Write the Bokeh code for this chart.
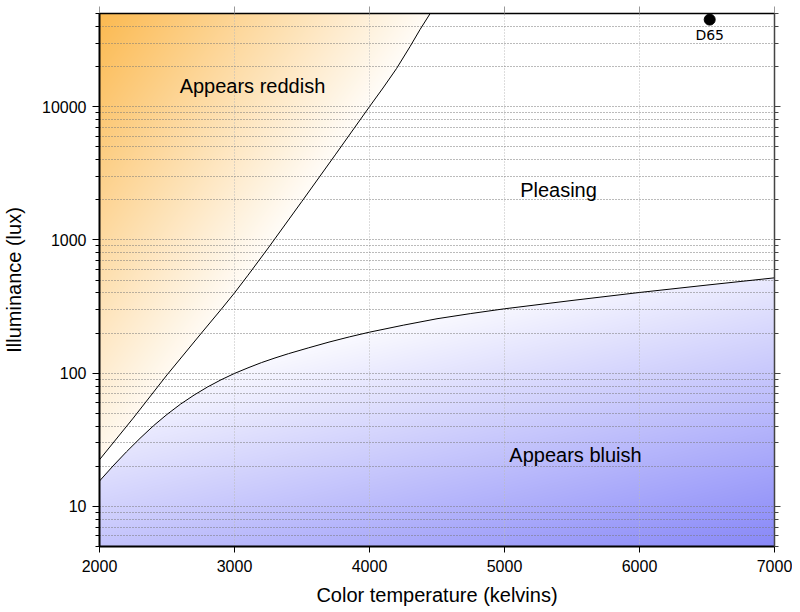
import numpy as np
from bokeh.plotting import figure
from bokeh.models import LogAxis, LinearAxis, FixedTicker, Range1d, PrintfTickFormatter
from bokeh.embed import file_html
from bokeh.resources import INLINE
from bokeh.core.properties import value

# ---------------- data ----------------
upper_T = [2000, 2250, 2500, 2750, 2900, 3000, 3100, 3250, 3500, 3750,
           4000, 4100, 4200, 4300, 4375, 4450]
upper_lux = [22.4, 46, 97, 197, 300, 400, 543, 870, 1950, 4400,
             10000, 13800, 19300, 28200, 38000, 50100]

lower_T = [2000, 2100, 2200, 2300, 2400, 2500, 2600, 2700, 2800, 2900, 3000,
           3100, 3200, 3300, 3400, 3550, 3700, 3850, 4000, 4250, 4500, 4750,
           5000, 5500, 6000, 6500, 7000]
lower_lux = [15.5, 20.1, 25.7, 32.4, 40.3, 49, 58.5, 68.4, 78.7, 89.1, 99.5,
             109.6, 120, 130, 140, 155, 171, 187, 203, 229, 256, 280,
             304, 351, 403, 458, 519]

d65_T = [6520]
d65_lux = [45000]
d65_label_lux = [34700]
d65_text = ["D65"]

region_labels = ["Appears reddish", "Pleasing", "Appears bluish"]
region_T = [3133, 5400, 5526]
region_lux = [14400, 2370, 24.5]

x_ticks = [2000, 3000, 4000, 5000, 6000, 7000]
y_ticks = [10, 100, 1000, 10000]
y_tick_labels = ["10", "100", "1000", "10000"]
y_minor = [m * 10 ** e for e in range(0, 5) for m in range(1, 10)]
y_minor = [v for v in y_minor if 5 <= v <= 50000 and v not in y_ticks]

x_lim = (2000, 7000)
y_lim = (5, 50000)

orange = (251, 185, 80)
blue = (136, 136, 248)

# ---------------- gradient image for the two regions ----------------
W, H = 675, 533
T_c = x_lim[0] + (np.arange(W) + 0.5) / W * (x_lim[1] - x_lim[0])
L_c = np.log10(y_lim[0]) + (np.arange(H) + 0.5) / H * (np.log10(y_lim[1]) - np.log10(y_lim[0]))
TT, LL = np.meshgrid(T_c, L_c)

up = np.interp(TT, upper_T, np.log10(upper_lux), right=np.inf)
lo = np.interp(TT, lower_T, np.log10(lower_lux))
red_mask = LL > up
blue_mask = LL < lo

u_o = (TT - upper_T[0]) / (max(upper_T) - upper_T[0])
v_o = (np.log10(y_lim[1]) - LL) / (np.log10(y_lim[1]) - np.log10(upper_lux[0]))
s_o = np.clip(1 - 0.95 * u_o - 0.9 * v_o, 0, 1)

u_b = (TT - x_lim[0]) / (x_lim[1] - x_lim[0])
v_b = (LL - np.log10(y_lim[0])) / (np.log10(max(lower_lux)) - np.log10(y_lim[0]))
s_b = np.clip(0.5 + 0.5 * u_b - 0.82 * v_b, 0, 1)

img = np.empty((H, W), dtype=np.uint32)
view = img.view(dtype=np.uint8).reshape((H, W, 4))
for ch in range(3):
    c = np.full((H, W), 255.0)
    c = np.where(red_mask, 255 * (1 - s_o) + orange[ch] * s_o, c)
    c = np.where(blue_mask, 255 * (1 - s_b) + blue[ch] * s_b, c)
    view[:, :, ch] = np.round(c).astype(np.uint8)
view[:, :, 3] = 255

# ---------------- figure ----------------
FONT = "Liberation Sans"

p = figure(frame_width=675, frame_height=533,
           x_range=Range1d(*x_lim), y_range=Range1d(*y_lim),
           y_axis_type="log", output_backend="svg", toolbar_location=None,
           min_border_left=89, min_border_right=18, min_border_top=13, min_border_bottom=0,
           background_fill_color="white", border_fill_color="white")

p.image_rgba(image=[img], x=x_lim[0], y=y_lim[0], dw=x_lim[1] - x_lim[0],
             dh=y_lim[1] - y_lim[0], level="image")

p.line(upper_T, upper_lux, line_color="black", line_width=1)
p.line(lower_T, lower_lux, line_color="black", line_width=1)

p.scatter(d65_T, d65_lux, size=11, color="black")
p.text(d65_T, d65_label_lux, text=d65_text, text_font=value("DejaVu Sans"),
       text_font_size="14px", text_align="center", text_baseline="middle", text_color="black")

p.text(region_T, region_lux, text=region_labels, text_font=value(FONT),
       text_font_size="20px", text_align="center", text_baseline="middle", text_color="black")

# axes
xt = FixedTicker(ticks=x_ticks)
yt = FixedTicker(ticks=y_ticks, minor_ticks=y_minor)

xa = p.xaxis[0]
xa.ticker = xt
xa.axis_label = "Color temperature (kelvins)"
xa.axis_label_text_font = FONT
xa.axis_label_text_font_size = "20px"
xa.axis_label_text_font_style = "normal"
xa.axis_label_text_color = "black"
xa.axis_label_standoff = 9
xa.major_label_text_font = FONT
xa.major_label_text_font_size = "16px"
xa.major_label_text_color = "black"
xa.major_label_standoff = 7
xa.major_tick_out = 6
xa.major_tick_in = 0
xa.major_tick_line_color = "black"
xa.minor_tick_line_color = None
xa.axis_line_width = 2
xa.axis_line_color = "black"

ya = p.yaxis[0]
ya.ticker = yt
ya.formatter = PrintfTickFormatter(format="%d")
ya.major_label_overrides = {t: l for t, l in zip(y_ticks, y_tick_labels)}
ya.axis_label = "Illuminance (lux)"
ya.axis_label_text_font = FONT
ya.axis_label_text_font_size = "20px"
ya.axis_label_text_font_style = "normal"
ya.axis_label_text_color = "black"
ya.axis_label_standoff = 14
ya.major_label_text_font = FONT
ya.major_label_text_font_size = "16px"
ya.major_label_text_color = "black"
ya.major_label_standoff = 6
ya.major_tick_out = 7
ya.major_tick_in = 0
ya.minor_tick_out = 4
ya.minor_tick_in = 0
ya.major_tick_line_color = "black"
ya.minor_tick_line_color = "black"
ya.axis_line_width = 2
ya.axis_line_color = "black"

ra = LogAxis(ticker=yt, major_label_text_font_size="1px", major_label_text_color=None,
             major_label_standoff=0,
             major_tick_out=6, major_tick_in=0, minor_tick_out=4, minor_tick_in=0,
             major_tick_line_color="#444", minor_tick_line_color="#444",
             axis_line_color="#444", axis_line_width=1.5)
p.add_layout(ra, "right")

ta = LinearAxis(ticker=xt, major_label_text_font_size="1px", major_label_text_color=None,
                major_label_standoff=0,
                major_tick_out=7, major_tick_in=0, minor_tick_line_color=None,
                major_tick_line_color="#999", axis_line_color="black", axis_line_width=1.5)
p.add_layout(ta, "above")

# grids
p.xgrid.ticker = xt
p.xgrid.grid_line_color = "#bbbbbb"
p.xgrid.grid_line_dash = "1 2"
p.xgrid.grid_line_width = 1
p.ygrid.ticker = yt
p.ygrid.grid_line_color = "#777777"
p.ygrid.grid_line_dash = "1 2"
p.ygrid.minor_grid_line_color = "#777777"
p.ygrid.minor_grid_line_dash = "1 2"

p.outline_line_color = "black"
p.outline_line_width = 1

open("out.html", "w").write(file_html(p, INLINE))
